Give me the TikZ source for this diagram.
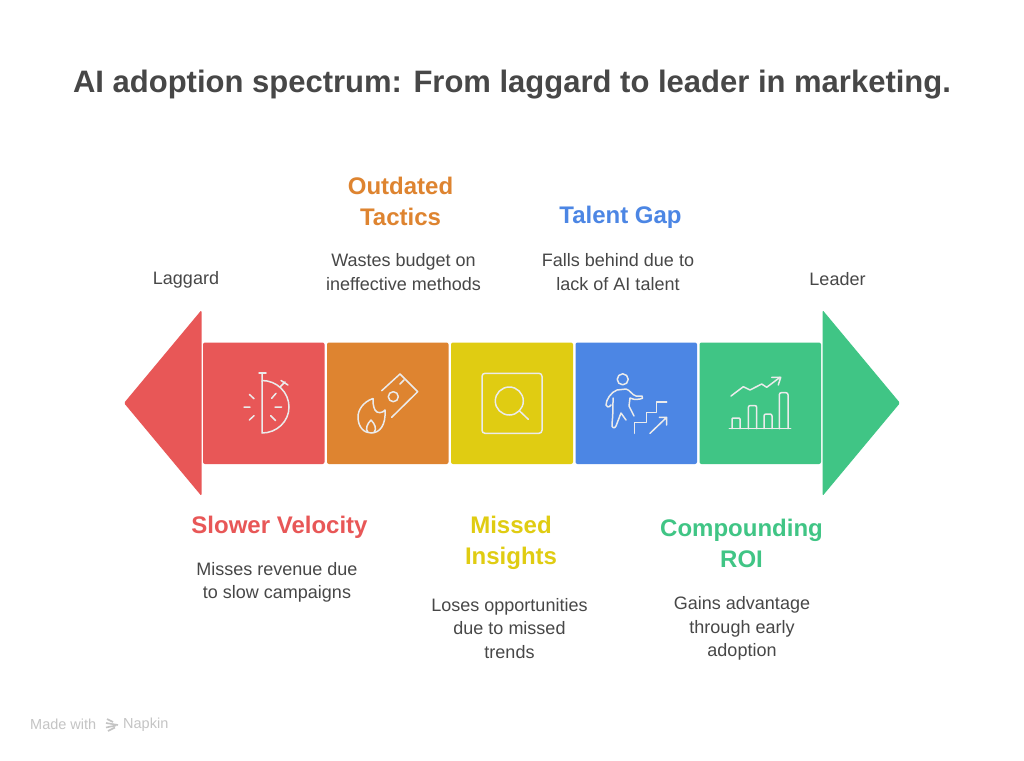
\documentclass[tikz,border=0pt]{standalone}
\usepackage{fontspec}
\setmainfont{Liberation Sans}
\definecolor{cred}{HTML}{E85757}
\definecolor{corange}{HTML}{DE8430}
\definecolor{cyellow}{HTML}{E0CC12}
\definecolor{cblue}{HTML}{4C86E4}
\definecolor{cgreen}{HTML}{40C585}
\definecolor{ctext}{HTML}{474747}
\definecolor{cmade}{HTML}{C4C4C4}
\tikzset{
  seg/.style={rounded corners=2pt},
  icon/.style={draw=white!92!black,line width=1.5pt,line cap=round,line join=round},
  headl/.style={font=\fontsize{24}{31}\selectfont\bfseries,align=center,inner sep=0pt},
  body/.style={font=\fontsize{18}{23.2}\selectfont,align=center,inner sep=0pt,text=ctext},
}
\begin{document}
\begin{tikzpicture}[x=1pt,y=-1pt]
\useasboundingbox (0,0) rectangle (1024,760);
\fill[white] (0,0) rectangle (1024,760);
% arrows
\fill[cred,rounded corners=1.5pt] (124,403) -- (201.5,310) -- (201.5,496) -- cycle;
\fill[cgreen,rounded corners=1.5pt] (900,403) -- (822.5,310) -- (822.5,496) -- cycle;
% segments
\fill[cred,seg] (203,342.5) rectangle (324.5,464);
\fill[corange,seg] (327,342.5) rectangle (448.5,464);
\fill[cyellow,seg] (451,342.5) rectangle (573,464);
\fill[cblue,seg] (575.5,342.5) rectangle (697,464);
\fill[cgreen,seg] (699.5,342.5) rectangle (821,464);
% stopwatch
\draw[icon] (262,381) arc (-90:90:-0) ;
\draw[icon] (262,374) -- (262,433) arc (90:0:27 and 26) arc (0:-90:27 and 26.5);
\draw[icon] (259,373) -- (266,373);
\draw[icon] (280,387) -- (285,382) (281,380.5) -- (288,385);
\draw[icon] (249.3,394.3)--(254,398.7) (244,407)--(250,407) (249.3,420)--(254,415.7);
\draw[icon] (276,393.3)--(271.7,398.3) (275,407)--(281.7,407) (270.7,415.7)--(275.7,420.7);
% burning money
\draw[icon] (381.7,390.7) -- (400,374) -- (417.7,391.7) -- (391.7,417.3);
\draw[icon] (393.3,396.7) circle (5);
\draw[icon] (400,384) -- (404,380);
\draw[icon] (373,398.5) .. controls (363,402) and (358,410) .. (358,417) .. controls (358,427) and (364,433) .. (371,433) .. controls (380,433) and (386,425) .. (385,410) .. controls (383,413) and (377,414) .. (375,410) .. controls (373,406) and (373,402) .. (373,398.5);
\draw[icon] (371,420) .. controls (367,424) and (365,429) .. (368,432.5) (371,420) .. controls (375,424) and (377,429) .. (374,432.5);
% magnifier
\draw[icon,rounded corners=3pt] (482,373.3) rectangle (542,433.3);
\draw[icon] (509.3,401) circle (14);
\draw[icon] (519.3,410.7) -- (528.3,419.3);
% climbing person
\draw[icon] (622.7,379.3) circle (5.5);
\draw[icon] (617,390) .. controls (611,392) and (606,400) .. (606,405) .. controls (606,407) and (609,408) .. (611,405) (613,398) .. controls (613,405) and (613,415) .. (612,424) .. controls (611,428) and (615,429) .. (616,426) -- (621,413) -- (626,420) (617,390) -- (626,389) .. controls (630,390) and (632,395) .. (636,396) -- (642,396) .. controls (644,397) and (642,400) .. (640,399) .. controls (635,400) and (632,399) .. (630,398) -- (629,406) -- (634,416);
\draw[icon] (634.3,433.3) -- (634.3,422.7) -- (646.7,422.7) -- (646.7,412.7) -- (656.7,412.7) -- (656.7,402) -- (666.7,402);
\draw[icon] (650,433.3) -- (666.7,417.3) (659.3,417.3) -- (666.7,417.3) -- (666.7,425);
% chart
\draw[icon] (729.3,428.7) -- (790.7,428.7);
\draw[icon,rounded corners=1pt] (732,428.7) |- (740,418) -- (740,428.7);
\draw[icon,rounded corners=2pt] (748.3,428.7) |- (756.7,405.5) -- (756.7,428.7);
\draw[icon,rounded corners=2pt] (764,428.7) |- (772,414) -- (772,428.7);
\draw[icon,rounded corners=2pt] (779.3,428.7) |- (788,392.7) -- (788,428.7);
\draw[icon] (731,396) -- (743.3,386.7) -- (750,390) -- (761.7,384) -- (766.7,387.3) -- (780,377.3);
\draw[icon] (771.7,377.3) -- (780.7,377.3) -- (778.3,385);
% texts
\node[font=\fontsize{31}{36}\selectfont\bfseries,text=ctext,inner sep=0pt] (title) at (512,85) {AI adoption spectrum: From laggard to leader in marketing.};
\node[body] (lag) at (186,279.5) {Laggard};
\node[body] (lead) at (837.5,279.5) {Leader};
\node[headl,text=corange] (h2) at (400.5,201) {Outdated\\Tactics};
\node[body] (b2) at (403.5,272) {Wastes budget on\\ineffective methods};
\node[headl,text=cblue] (h4) at (620.5,217) {Talent Gap};
\node[body] (b4) at (618,272) {Falls behind due to\\lack of AI talent};
\node[headl,text=cred] (h1) at (279.5,527) {Slower Velocity};
\node[body] (b1) at (277,582) {Misses revenue due\\to slow campaigns};
\node[headl,text=cyellow] (h3) at (511,543) {Missed\\Insights};
\node[body] (b3) at (509.5,628.5) {Loses opportunities\\due to missed\\trends};
\node[headl,text=cgreen] (h5) at (741.5,543) {Compounding\\ROI};
\node[body] (b5) at (742,628.5) {Gains advantage\\through early\\adoption};
% footer
\node[font=\fontsize{14.5}{16}\selectfont,text=cmade,inner sep=0pt,anchor=west] (m) at (30,724.5) {Made with};
\node[font=\fontsize{14.5}{16}\selectfont,text=cmade,inner sep=0pt,anchor=west] (n) at (123,724.5) {Napkin};
\draw[cmade,line width=1.6pt] (107,719) -- (113,722) (106,723) -- (118,725) (106,727.5) -- (116,725.5) (108,731) -- (115,727.5);
\end{tikzpicture}
\end{document}
